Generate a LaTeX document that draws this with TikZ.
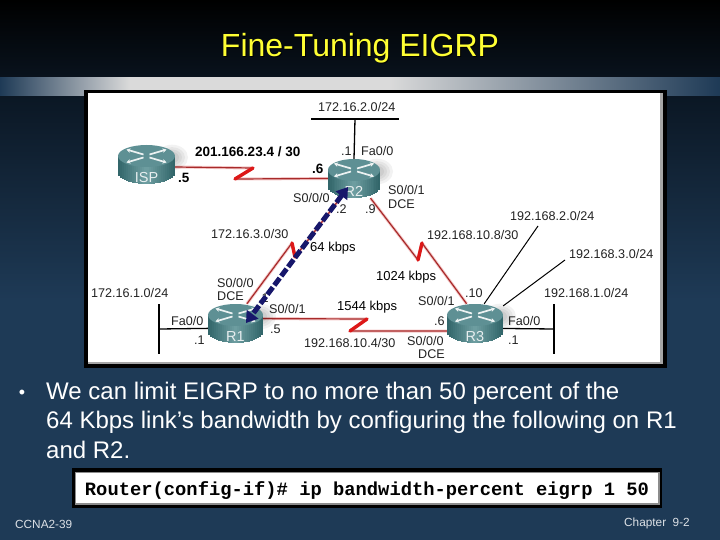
\documentclass[tikz,border=0pt]{standalone}
\usepackage{fontspec}
\setmainfont{Liberation Sans}
\newfontfamily\codefont{Liberation Mono}
\usetikzlibrary{calc,arrows.meta}
\definecolor{bgblue}{HTML}{1E3A56}
\definecolor{bgdark}{HTML}{0B1724}
\definecolor{barlight}{HTML}{DADADA}
\definecolor{titleyellow}{HTML}{FFFF33}
\definecolor{ink}{HTML}{222222}
\definecolor{tealtop}{HTML}{5E9094}
\definecolor{tealmid}{HTML}{6F9FA2}
\definecolor{tealdark}{HTML}{32666A}
\definecolor{redcore}{HTML}{A82A2A}
\definecolor{redhalo}{HTML}{F4C8C8}
\definecolor{zigred}{HTML}{DD1818}
\definecolor{arrowblue}{HTML}{17176B}
\pgfdeclarehorizontalshading{barshade}{100bp}{color(0bp)=(bgblue); color(25bp)=(bgblue); color(34bp)=(barlight); color(52bp)=(barlight); color(75bp)=(bgblue); color(100bp)=(bgblue)}
\tikzset{
  lbl/.style={font=\fontsize{12.6}{14}\selectfont,text=ink,inner sep=0pt,anchor=west},
  lblb/.style={font=\fontsize{13.5}{15}\bfseries\selectfont,text=black,inner sep=0pt,anchor=west},
  lblm/.style={font=\fontsize{13}{15}\selectfont,text=black,inner sep=0pt,anchor=west},
  rtrbox/.style={minimum width=#1pt,minimum height=39pt,inner sep=0pt},
  lan/.style={draw=black,line width=1.3pt},
  halo/.style={draw=redhalo,line width=3pt,line join=round},
  core/.style={draw=redcore,line width=1.2pt,line join=round},
  zig/.style={draw=zigred,line width=3.4pt,line cap=round,line join=miter},
  foot/.style={font=\fontsize{11.8}{14}\selectfont,text=white!85!bgblue,inner sep=0pt,anchor=west},
}
% name, centre x, centre y, half width, label
\newcommand{\rtrshape}[5]{%
  \foreach \s in {16,13,10,7}{
    \fill[black,opacity=0.05] (#2+#4-3,#3-7) ellipse [x radius=\s,y radius=0.8*\s];
  }
  \foreach \i in {0,...,27}{
    \pgfmathsetmacro\mixv{100*(1-abs(\i-13.5)/13.5)}
    \pgfmathsetmacro\tpos{(\i+0.5-14)/14}
    \pgfmathsetmacro\lowy{#3+8.5+11*sqrt(1-\tpos*\tpos)}
    \pgfmathsetmacro\xa{#2+\tpos*#4-#4/28}
    \pgfmathsetmacro\xb{#2+\tpos*#4+#4/28+0.25}
    \fill[tealmid!\mixv!tealdark] (\xa,#3-8.5) rectangle (\xb,\lowy);
  }
  \fill[tealtop] (#2,#3-8.5) ellipse [x radius=#4,y radius=11];
  \begin{scope}[white!88!tealtop,line width=1.7pt,-{Stealth[length=4pt,width=4.5pt]}]
    \draw (#2-3,#3-10) -- (#2-20,#3-15);
    \draw (#2+3,#3-10) -- (#2+20,#3-15);
    \draw (#2-3,#3-7) -- (#2-20,#3-2);
    \draw (#2+3,#3-7) -- (#2+20,#3-2);
  \end{scope}
  \node[font=\fontsize{14.5}{16}\selectfont,text=white!85!tealtop,inner sep=0pt] (#1t) at (#2,#3+13) {#5};
}
\begin{document}
\begin{tikzpicture}[x=1pt,y=-1pt]
\useasboundingbox (0,0) rectangle (720,540);
% background
\fill[bgblue] (0,0) rectangle (720,540);
\shade[top color=black,bottom color=bgdark] (0,0) rectangle (720,96);
\shade[top color=bgdark,bottom color=bgblue] (0,96) rectangle (720,300);
\shade[shading=barshade] (0,78) rectangle (720,96);
% title
\node[font=\fontsize{32}{36}\selectfont,text=black,inner sep=0pt] (titleshadow) at (361,49) {Fine-Tuning EIGRP};
\node[font=\fontsize{32}{36}\selectfont,text=titleyellow,inner sep=0pt] (title) at (360,48) {Fine-Tuning EIGRP};
% panel
\fill[black] (84,90) rectangle (667,368);
\fill[black!35] (88,93) rectangle (663,364);
\fill[white] (88,93) rectangle (660,362);
% router anchors
\node[rtrbox=57] (isp) at (146.5,164.5) {};
\node[rtrbox=52] (r2) at (354,178.5) {};
\node[rtrbox=55] (r1) at (235.5,323.5) {};
\node[rtrbox=56] (r3) at (475,323.5) {};
% free ends
\coordinate (lantopl) at (311,119);
\coordinate (lantopr) at (399,119);
\coordinate (lantopm) at (355,119);
\coordinate (lan1t) at (159,304);
\coordinate (lan1b) at (159,354);
\coordinate (lan1m) at (159,329);
\coordinate (lan3t) at (554,304);
\coordinate (lan3b) at (554,354);
\coordinate (lan3m) at (554,329);
\coordinate (net2) at (538,226);
\coordinate (net3) at (565,260);
% bends
\coordinate (a1) at (253,168); \coordinate (a2) at (235,179);
\coordinate (b1) at (292,243); \coordinate (b2) at (295,257);
\coordinate (c1) at (367,319); \coordinate (c2) at (350,331);
\coordinate (d1) at (418,260); \coordinate (d2) at (422,243);
% LANs
\draw[lan] (lantopl) -- (lantopr);
\draw[lan] (lantopm) -- (r2.north);
\draw[lan] (lan1t) -- (lan1b);
\draw[lan] (lan1m) -- (r1.190);
\draw[lan] (lan3t) -- (lan3b);
\draw[lan] (lan3m) -- (r3.-10);
\draw[line width=1pt,black] (r3.65) -- (net2);
\draw[line width=1pt,black] (r3.32) -- (net3);
% serial links
\foreach \st in {halo,core}{
  \draw[\st] (isp.-5) -- (a1) -- (a2) -- (r2.west);
  \draw[\st] (r1.60) -- (b1) -- (b2) -- (r2.-125);
  \draw[\st] (r1.10) -- (c1) -- (c2) -- (r3.-15);
  \draw[\st] (r2.-50) -- (d1) -- (d2) -- (r3.113);
}
\draw[zig] (a1) -- (a2);
\draw[zig] (b1) -- (b2);
\draw[zig] (c1) -- (c2);
\draw[zig] (d1) -- (d2);
% routers
\rtrshape{ispi}{146.5}{164.5}{28.5}{ISP}
\rtrshape{r2i}{354}{178.5}{26}{R2}
\rtrshape{r1i}{235.5}{323.5}{27.5}{R1}
\rtrshape{r3i}{475}{323.5}{28}{R3}
% labels
\node[lbl] (t1) at (318,107) {172.16.2.0/24};
\node[lblb] (t2) at (195,152) {201.166.23.4 / 30};
\node[lblb] (t3) at (178,178) {.5};
\node[lblb] (t4) at (312,169) {.6};
\node[lbl] (t5) at (341,151) {.1};
\node[lbl] (t6) at (361,151) {Fa0/0};
\node[lbl] (t7) at (293,198) {S0/0/0};
\node[lbl] (t8) at (336,209) {.2};
\node[lbl] (t9) at (365,209) {.9};
\node[lbl] (t10) at (388,190) {S0/0/1};
\node[lbl] (t11) at (388,204) {DCE};
\node[lbl] (t12) at (211,234) {172.16.3.0/30};
\node[lblm] (t13) at (310,248) {64 kbps};
\node[lbl] (t14) at (427,235) {192.168.10.8/30};
\node[lbl] (t15) at (510,216) {192.168.2.0/24};
\node[lbl] (t16) at (569,254) {192.168.3.0/24};
\node[lbl] (t17) at (544,293) {192.168.1.0/24};
\node[lblm] (t18) at (376,277) {1024 kbps};
\node[lbl] (t19) at (91,293) {172.16.1.0/24};
\node[lbl] (t20) at (217,283) {S0/0/0};
\node[lbl] (t21) at (217,296) {DCE};
\node[lbl] (t22) at (258,298) {.1};
\node[lbl] (t23) at (269,309) {S0/0/1};
\node[lbl] (t24) at (270,329) {.5};
\node[lbl] (t25) at (171,321) {Fa0/0};
\node[lbl] (t26) at (194,340) {.1};
\node[lblm] (t27) at (337,307) {1544 kbps};
\node[lbl] (t28) at (304,343) {192.168.10.4/30};
\node[lbl] (t29) at (418,301) {S0/0/1};
\node[lbl] (t30) at (465,293) {.10};
\node[lbl] (t31) at (434,321) {.6};
\node[lbl] (t32) at (407,341) {S0/0/0};
\node[lbl] (t33) at (418,354) {DCE};
\node[lbl] (t34) at (508,321) {Fa0/0};
\node[lbl] (t35) at (508,340) {.1};
% highlighted path
\draw[arrowblue,line width=5pt,dash pattern=on 9pt off 2.5pt,
  {Triangle[length=11pt,width=14pt]}-{Triangle[length=11pt,width=14pt]}]
  ($(r2)+(-6,8.5)$) -- ($(r1)+(10.5,-0.5)$);
% body text
\node[font=\fontsize{18}{20}\selectfont,text=white,inner sep=0pt] (bul) at (22,394) {•};
\node[font=\fontsize{24}{29.5}\selectfont,text=white,inner sep=0pt,anchor=north west,align=left] (body) at (46,381.5)
  {We can limit EIGRP to no more than 50 percent of the\\64 Kbps link’s bandwidth by configuring the following on R1\\and R2.};
% command box
\fill[black] (72,468) rectangle (662,508);
\fill[black!45] (75,472) rectangle (660,505);
\fill[white] (76,473) rectangle (658,503);
\node[font=\codefont\bfseries\fontsize{18.8}{22}\selectfont,text=black,inner sep=0pt] (cmd) at (367,490.5)
  {Router(config-if)\# ip bandwidth-percent eigrp 1 50};
% footer
\node[foot] (f1) at (15,524) {CCNA2-39};
\node[foot] (f2) at (624,523) {Chapter\ \ 9-2};
\end{tikzpicture}
\end{document}
